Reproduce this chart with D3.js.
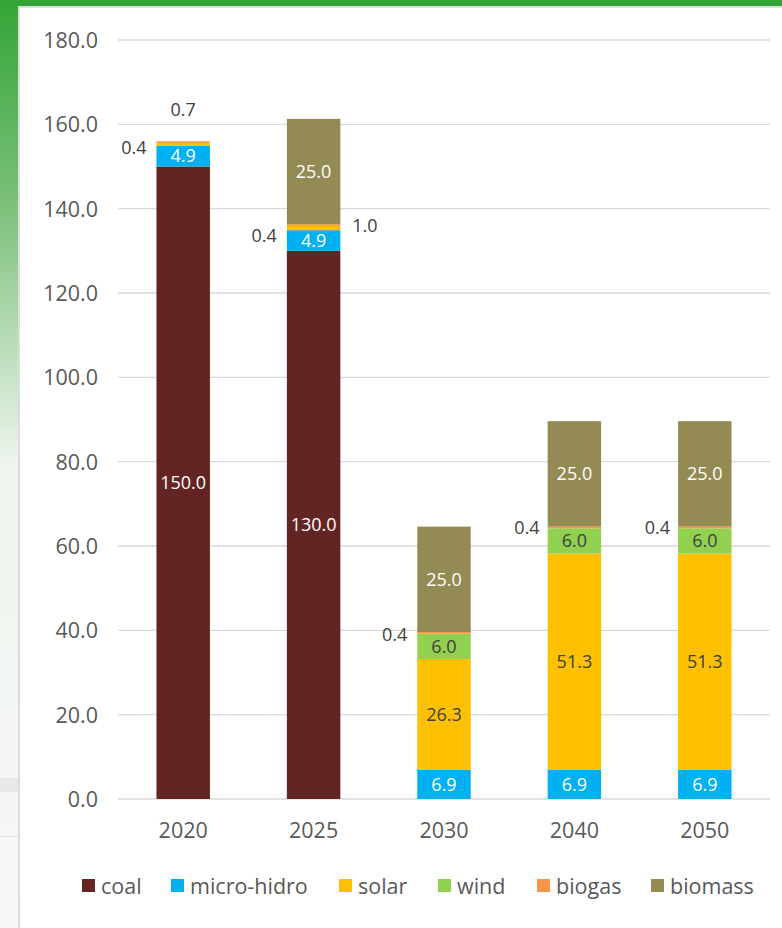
<!DOCTYPE html>
<html>
<head>
<meta charset="utf-8">
<script src="https://cdn.jsdelivr.net/npm/d3@7"></script>
<style>
  body { margin: 0; background: #fff; }
  svg { display: block; font-family: "Open Sans", sans-serif; }
</style>
</head>
<body>
<main></main>
<script>
// chart data
let years = ['2020', '2025', '2030', '2040', '2050']
let seriesNames = ['coal', 'micro-hidro', 'solar', 'wind', 'biogas', 'biomass']
let coal       = [150, 130, 0, 0, 0]
let microHidro = [4.9, 4.9, 6.9, 6.9, 6.9]
let solar      = [0.7, 1.0, 26.3, 51.3, 51.3]
let wind       = [0, 0, 6.0, 6.0, 6.0]
let biogas     = [0.4, 0.4, 0.4, 0.4, 0.4]
let biomass    = [0, 25.0, 25.0, 25.0, 25.0]
let yTicks = [0, 20, 40, 60, 80, 100, 120, 140, 160, 180]

let colors = ['#632523', '#00b0f0', '#ffc000', '#92d050', '#f79646', '#948a54']
let labelColors = ['#ffffff', '#ffffff', '#404040', '#404040', '#404040', '#ffffff']

let W = 782, H = 928
let svg = d3.select('main').append('svg').attr('width', W).attr('height', H)

// frame: green top band and fading left strip
let defs = svg.append('defs')
let grad = defs.append('linearGradient').attr('id', 'side').attr('x1', 0).attr('x2', 0).attr('y1', 0).attr('y2', 1)
grad.append('stop').attr('offset', 0).attr('stop-color', '#33a537')
grad.append('stop').attr('offset', 0.22).attr('stop-color', '#7cc07a')
grad.append('stop').attr('offset', 0.5).attr('stop-color', '#eef5ee')
grad.append('stop').attr('offset', 1).attr('stop-color', '#f7f7f7')
svg.append('rect').attr('x', 0).attr('y', 0).attr('width', 19).attr('height', H).attr('fill', 'url(#side)')
svg.append('rect').attr('x', 0).attr('y', 778).attr('width', 19).attr('height', 14).attr('fill', '#e8e8e8')
svg.append('rect').attr('x', 0).attr('y', 836).attr('width', 19).attr('height', 1).attr('fill', '#e4e4e4')
svg.append('rect').attr('x', 0).attr('y', 0).attr('width', W).attr('height', 6).attr('fill', '#33a537')
svg.append('rect').attr('x', 18).attr('y', 6).attr('width', W).attr('height', 2).attr('fill', '#dedede')
svg.append('rect').attr('x', 18).attr('y', 6).attr('width', 2).attr('height', H).attr('fill', '#dcdcdc')

let x = d3.scaleBand().domain(years).range([118, 770]).paddingInner(0.59).paddingOuter(0.295)
let y = d3.scaleLinear().domain([0, 180]).range([799, 40])

// gridlines
svg.append('g').selectAll('line').data(yTicks).join('line')
  .attr('x1', 118).attr('x2', 770)
  .attr('y1', d => y(d)).attr('y2', d => y(d))
  .attr('stroke', '#d9d9d9').attr('stroke-width', 1.3)

// y axis labels
let yAxis = svg.append('g').attr('transform', 'translate(98,0)')
  .call(d3.axisLeft(y).tickValues(yTicks).tickFormat(d3.format('.1f')).tickSize(0).tickPadding(0))
yAxis.select('.domain').remove()
yAxis.selectAll('text').attr('font-size', 21.5).attr('fill', '#595959').attr('font-family', '"Open Sans", sans-serif')
  .attr('dy', '0.35em')

// x axis labels
let xAxis = svg.append('g').attr('transform', 'translate(0,799)')
  .call(d3.axisBottom(x).tickSize(0).tickPadding(24))
xAxis.select('.domain').remove()
xAxis.selectAll('text').attr('font-size', 21.5).attr('fill', '#595959').attr('font-family', '"Open Sans", sans-serif')

// stacked bars
let table = years.map((yr, i) => ({
  year: yr, coal: coal[i], 'micro-hidro': microHidro[i], solar: solar[i],
  wind: wind[i], biogas: biogas[i], biomass: biomass[i]
}))
let stacked = d3.stack().keys(seriesNames)(table)

let groups = svg.append('g').selectAll('g').data(stacked).join('g')
  .attr('fill', (d, i) => colors[i])
groups.selectAll('rect').data(d => d).join('rect')
  .attr('x', d => x(d.data.year))
  .attr('y', d => y(d[1]))
  .attr('width', x.bandwidth())
  .attr('height', d => y(d[0]) - y(d[1]))

// labels inside segments (large values)
let bw = x.bandwidth()
stacked.forEach((s, si) => {
  s.forEach(d => {
    let v = d[1] - d[0]
    if (v < 3) return
    svg.append('text')
      .attr('x', x(d.data.year) + bw / 2)
      .attr('y', (y(d[0]) + y(d[1])) / 2)
      .attr('dy', '0.35em')
      .attr('text-anchor', 'middle')
      .attr('font-size', 18)
      .attr('fill', labelColors[si])
      .text(v.toFixed(1))
  })
})

// small values placed outside the bars
let small = [
  // [series index, year index, dx from bar, dy, anchor]
  [2, 0, bw / 2, -35, 'middle'],
  [4, 0, -10, 6, 'end'],
  [2, 1, bw + 12, -2, 'start'],
  [4, 1, -10, 11, 'end'],
  [4, 2, -10, 2, 'end'],
  [4, 3, -8, 0, 'end'],
  [4, 4, -8, 0, 'end'],
]
small.forEach(([si, yi, dx, dy, anchor]) => {
  let d = stacked[si][yi]
  svg.append('text')
    .attr('x', x(d.data.year) + dx)
    .attr('y', (y(d[0]) + y(d[1])) / 2 + dy)
    .attr('dy', '0.35em')
    .attr('text-anchor', anchor)
    .attr('font-size', 18)
    .attr('fill', '#404040')
    .text((d[1] - d[0]).toFixed(1))
})

// legend
let legendX = [82, 171, 339, 438, 537, 651]
let lg = svg.append('g').selectAll('g').data(seriesNames).join('g')
  .attr('transform', (d, i) => `translate(${legendX[i]},886)`)
lg.append('rect').attr('x', 0).attr('y', -7).attr('width', 13).attr('height', 13)
  .attr('fill', (d, i) => colors[i])
lg.append('text').attr('x', 19).attr('dy', '0.35em')
  .attr('font-size', 21.5).attr('fill', '#595959').text(d => d)
</script>
</body>
</html>
